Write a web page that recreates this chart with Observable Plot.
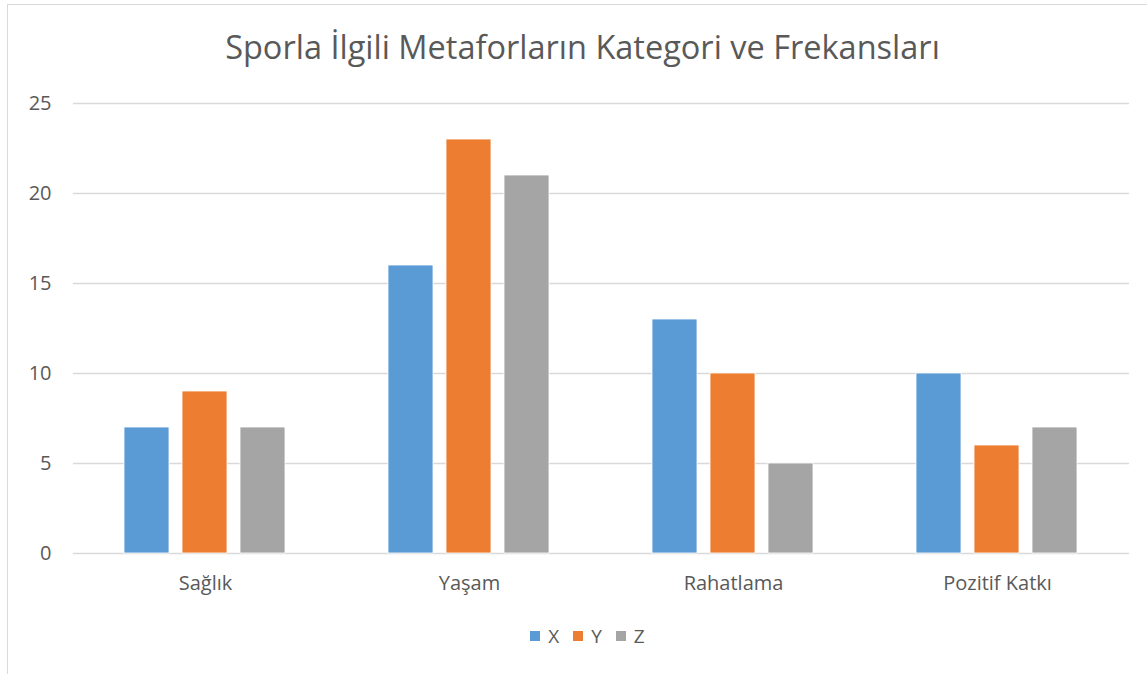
<!DOCTYPE html>
<html>
<head>
<meta charset="utf-8">
<script src="https://cdn.jsdelivr.net/npm/d3@7"></script>
<script src="https://cdn.jsdelivr.net/npm/@observablehq/plot@0.6"></script>
<style>
  html, body { margin: 0; padding: 0; background: white; overflow: hidden; }
  #wrap { position: relative; width: 1147px; height: 674px; font-family: "Open Sans", sans-serif; color: #595959; }
  #frame { position: absolute; left: 7px; top: 4px; width: 1160px; height: 700px; border: 1px solid #d9d9d9; box-sizing: border-box; }
  #title { position: absolute; left: 0; width: 1165px; top: 25px; text-align: center; font-size: 32.5px; line-height: 44px; font-weight: 400; color: #595959; }
  #legend { position: absolute; top: 623px; left: 0; width: 1175px; display: flex; justify-content: center; font-size: 19px; line-height: 26px; color: #595959; }
  #legend .item { display: flex; align-items: center; margin: 0 7px; }
  #legend .sw { width: 10px; height: 10px; margin-right: 8px; }
  #chart { position: absolute; left: 0; top: 0; }
  #chart svg text { font-size: 20px; }
</style>
</head>
<body>
<div id="wrap">
  <div id="chart"></div>
  <div id="frame"></div>
  <div id="title">Sporla İlgili Metaforların Kategori ve Frekansları</div>
  <div id="legend"></div>
</div>
<script>
const categories = ["Sağlık", "Yaşam", "Rahatlama", "Pozitif Katkı"];
const series = ["X", "Y", "Z"];
const xValues = [7, 16, 13, 10];
const yValues = [9, 23, 10, 6];
const zValues = [7, 21, 5, 7];
const yTicks = [0, 5, 10, 15, 20, 25];
const colors = ["#5B9BD5", "#ED7D31", "#A5A5A5"];

const seriesValues = [xValues, yValues, zValues];
const data = [];
categories.forEach((c, i) => {
  series.forEach((s, j) => {
    data.push({category: c, series: s, value: seriesValues[j][i]});
  });
});

const chart = Plot.plot({
  width: 1147,
  height: 674,
  marginTop: 103,
  marginBottom: 121,
  marginLeft: 71,
  marginRight: 17,
  style: {fontFamily: "'Open Sans', sans-serif", fontSize: "20px", color: "#595959", background: "transparent"},
  fx: {domain: categories, padding: 0, label: null, axis: "bottom", tickSize: 0, tickPadding: 22},
  x: {domain: series, axis: null, paddingInner: 0.22, paddingOuter: 0.856},
  y: {domain: [0, 25], ticks: yTicks, label: null, tickSize: 0, tickPadding: 22, grid: false},
  color: {domain: series, range: colors},
  marks: [
    Plot.gridY(yTicks, {stroke: "#d9d9d9", strokeOpacity: 1, strokeWidth: 1.4}),
    Plot.barY(data, {fx: "category", x: "series", y: "value", fill: "series", stroke: "white", strokeWidth: 0.8})
  ]
});
document.getElementById("chart").appendChild(chart);

const legend = document.getElementById("legend");
series.forEach((s, j) => {
  const item = document.createElement("div");
  item.className = "item";
  const sw = document.createElement("div");
  sw.className = "sw";
  sw.style.background = colors[j];
  const label = document.createElement("span");
  label.textContent = s;
  item.appendChild(sw);
  item.appendChild(label);
  legend.appendChild(item);
});
</script>
</body>
</html>
